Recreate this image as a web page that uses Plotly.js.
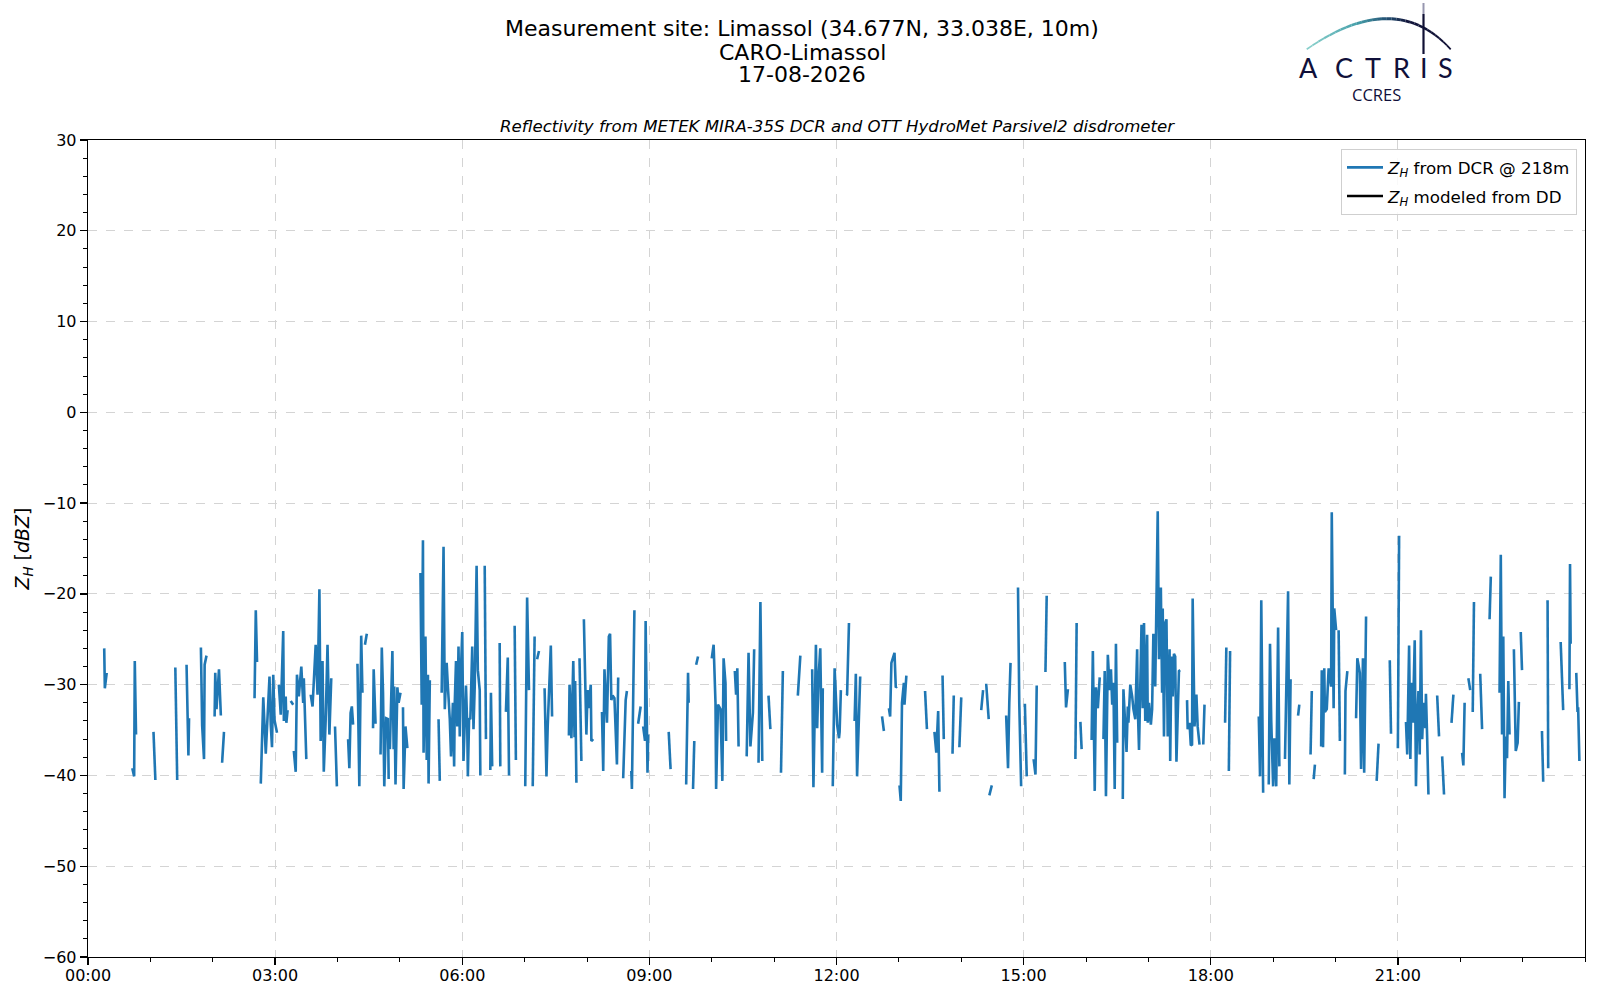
<!DOCTYPE html>
<html>
<head>
<meta charset="utf-8">
<script src="https://cdn.plot.ly/plotly-3.0.1.min.js"></script>
<style>html,body{margin:0;padding:0;background:#fff;}#chart{width:1600px;height:1000px;}</style>
</head>
<body>
<div id="chart"></div>
<script>
// ---- Data: time of day (hours) and reflectivity Z_H from DCR (dBZ); null = gap ----
const hours00to06 = [0.26,0.27,0.30,null,
 0.71,0.74,0.75,0.77,null,
 1.05,1.08,null,
 1.40,1.43,null,
 1.58,1.61,1.62,null,
 1.81,1.83,1.86,1.87,1.90,null,
 2.03,2.04,2.06,2.10,2.13,null,
 2.15,2.18,null,
 2.67,2.69,2.71,null,
 2.77,2.81,2.85,2.87,2.91,2.93,2.95,2.97,2.99,3.03,null,
 3.06,3.09,3.13,3.14,3.17,3.18,3.20,null,
 3.25,3.29,null,
 3.30,3.33,3.35,3.38,3.42,3.45,3.46,3.50,null,
 3.57,3.60,3.65,3.68,3.71,3.73,3.76,3.78,3.81,3.84,3.87,3.90,null,
 3.96,3.99,null,
 4.17,4.19,4.21,4.23,4.25,null,
 4.32,4.35,4.38,4.40,null,
 4.44,4.47,null,
 4.57,4.58,4.61,null,
 4.69,4.71,4.73,4.75,4.78,4.81,4.82,null,
 4.84,4.88,4.90,4.91,4.93,4.96,4.98,5.01,null,
 5.05,5.06,5.09,5.12,null,
 5.33,5.35,5.37,5.38,5.41,5.43,5.45,5.46,5.48,null,
 5.62,5.64,null,
 5.67,5.70,5.72,5.75,5.77,5.80,5.82,5.85,5.87,5.88,5.90,5.92,5.94,5.96,5.97];
const zh00to06 = [-26.0,-30.4,-28.7,null,
 -39.2,-40.1,-27.4,-35.5,null,
 -35.2,-40.5,null,
 -28.1,-40.5,null,
 -27.8,-37.8,-33.7,null,
 -25.9,-34.5,-38.2,-27.8,-26.8,null,
 -33.5,-28.7,-32.7,-28.3,-33.4,null,
 -38.6,-35.2,null,
 -31.5,-21.8,-27.5,null,
 -40.9,-31.4,-37.6,-35.0,-29.1,-34.4,-36.9,-28.9,-33.9,-35.3,null,
 -30.0,-33.3,-24.1,-34.0,-31.3,-34.2,-32.8,null,
 -31.8,-32.2,null,
 -37.3,-39.6,-28.9,-31.3,-28.0,-32.0,-29.3,-38.2,null,
 -31.1,-32.4,-25.6,-31.1,-19.5,-36.2,-27.4,-39.6,-34.0,-25.6,-35.5,-29.3,null,
 -34.6,-41.2,null,
 -36.0,-39.2,-33.1,-32.4,-34.4,null,
 -27.7,-41.2,-24.6,-30.9,null,
 -25.6,-24.4,null,
 -34.8,-28.3,-34.3,null,
 -37.7,-25.9,-30.9,-41.2,-33.7,-33.8,-40.4,null,
 -37.1,-26.3,-37.1,-30.2,-41.0,-30.3,-32.0,-30.9,null,
 -32.5,-41.5,-34.6,-37.0,null,
 -17.7,-32.2,-14.1,-37.5,-24.7,-38.3,-28.9,-40.9,-29.5,null,
 -33.8,-40.6,null,
 -30.9,-14.8,-32.7,-27.6,-30.2,-33.8,-37.9,-32.0,-39.0,-32.0,-27.4,-34.6,-25.8,-35.7,-30.2];

const hours06to12 = [6.00,6.02,6.04,6.06,6.08,6.09,6.11,6.13,6.16,6.18,6.20,6.23,6.25,6.28,6.29,null,
 6.36,6.38,null,
 6.45,6.46,6.48,null,
 6.60,6.61,null,
 6.70,6.73,6.75,null,
 6.84,6.86,null,
 7.01,7.04,7.07,null,
 7.13,7.16,null,
 7.20,7.23,null,
 7.32,7.35,7.37,7.40,7.42,7.44,null,
 7.71,7.72,7.75,7.78,7.80,7.81,7.83,null,
 7.88,7.91,null,
 7.95,7.99,8.01,8.03,8.06,8.07,8.10,null,
 8.24,8.26,8.28,8.32,8.35,8.37,8.39,8.41,8.44,8.48,8.50,null,
 8.58,8.60,8.62,8.64,null,
 8.71,8.72,8.76,null,
 8.82,8.86,null,
 8.90,8.93,8.94,8.97,8.98,null,
 9.31,9.34,null,
 9.59,9.62,9.63,null,
 9.70,9.72,null,
 9.75,9.78,null,
 10.00,10.03,10.06,10.07,10.10,10.14,10.17,10.19,10.22,10.23,null,
 10.37,10.39,10.41,10.43,null,
 10.56,10.59,10.62,10.66,10.68,null,
 10.75,10.78,10.81,null,
 10.91,10.94,null,
 11.11,11.14,null,
 11.38,11.42,null,
 11.61,11.63,11.67,11.69,11.71,11.74,11.77,11.78,null,
 11.94,11.97];
const zh06to12 = [-24.2,-38.4,-33.5,-30.1,-34.6,-40.1,-33.7,-33.8,-25.8,-34.9,-30.2,-16.9,-28.4,-30.6,-40.0,null,
 -16.9,-36.0,null,
 -39.4,-30.9,-39.0,null,
 -25.4,-39.0,null,
 -33.0,-27.0,-40.0,null,
 -23.5,-38.3,null,
 -41.2,-20.4,-30.6,null,
 -41.2,-24.7,null,
 -27.2,-26.3,null,
 -30.4,-40.1,-34.6,-29.6,-25.7,-33.5,null,
 -35.6,-30.0,-35.9,-27.4,-35.8,-29.6,-40.8,null,
 -27.1,-38.4,null,
 -22.8,-35.5,-30.6,-32.6,-30.0,-36.2,-36.0,null,
 -33.0,-39.5,-28.3,-34.2,-24.7,-24.4,-31.7,-31.2,-31.5,-38.8,-29.2,null,
 -40.3,-35.5,-31.7,-30.7,null,
 -39.5,-41.5,-21.8,null,
 -34.3,-32.4,null,
 -34.6,-36.2,-23.0,-39.7,-35.5,null,
 -35.2,-39.3,null,
 -41.0,-28.7,-32.0,null,
 -41.5,-36.2,null,
 -27.8,-26.9,null,
 -27.1,-25.6,-32.0,-41.5,-32.2,-32.7,-40.6,-27.1,-29.8,-36.2,null,
 -28.5,-31.1,-28.2,-36.8,null,
 -37.9,-26.5,-36.8,-33.1,-26.1,null,
 -38.6,-20.9,-38.4,null,
 -31.2,-34.9,null,
 -39.7,-28.5,null,
 -31.2,-26.8,null,
 -28.3,-41.3,-25.6,-34.8,-29.5,-26.0,-39.7,-30.4,null,
 -41.2,-28.2];

const hours12to18 = [12.01,12.04,12.05,12.07,null,
 12.16,12.17,12.20,null,
 12.29,12.31,12.33,12.36,12.38,null,
 12.73,12.76,null,
 12.84,12.86,12.88,12.93,12.95,12.97,null,
 13.01,13.03,13.05,13.08,13.09,13.12,null,
 13.42,13.45,null,
 13.57,13.60,13.63,13.65,null,
 13.70,13.72,null,
 13.86,13.88,null,
 13.97,14.00,null,
 14.32,14.35,null,
 14.40,14.44,null,
 14.45,14.49,null,
 14.72,14.75,14.77,14.79,null,
 14.91,14.93,14.96,null,
 15.02,15.05,null,
 15.16,15.19,15.21,null,
 15.35,15.37,null,
 15.66,15.68,15.71,null,
 15.83,15.85,null,
 15.91,15.93,null,
 16.09,16.11,16.14,16.16,16.19,16.22,null,
 16.28,16.30,16.32,16.35,16.38,16.40,16.42,16.44,16.46,16.48,16.50,null,
 16.59,16.60,16.65,16.67,16.68,16.71,16.74,16.76,16.79,16.82,
 16.83,16.85,16.89,16.91,16.93,16.95,16.98,16.99,17.01,17.04,
 17.06,17.08,17.11,17.13,17.15,17.17,17.20,17.22,17.23,17.25,
 17.27,17.29,17.31,17.34,17.35,17.37,17.39,17.41,17.43,17.45,
 17.47,17.49,17.51,null,
 17.62,17.63,17.66,17.68,17.70,17.71,17.74,17.77,17.79,17.82,null,
 17.88,17.90,null];
const zh12to18 = [-34.4,-35.9,-35.2,-30.6,null,
 -31.2,-31.1,-23.2,null,
 -34.0,-28.8,-40.1,-33.3,-29.1,null,
 -33.5,-35.1,null,
 -32.6,-33.5,-27.6,-26.5,-30.3,-30.2,null,
 -41.1,-42.8,-32.0,-29.8,-32.2,-29.0,null,
 -30.7,-34.9,null,
 -35.2,-37.5,-32.9,-41.8,null,
 -29.0,-36.0,null,
 -37.6,-31.2,null,
 -36.9,-31.4,null,
 -32.8,-30.6,null,
 -29.9,-33.8,null,
 -42.2,-41.1,null,
 -33.4,-39.2,-32.0,-27.6,null,
 -19.3,-32.0,-41.2,null,
 -32.1,-40.1,null,
 -38.2,-39.9,-30.1,null,
 -28.6,-20.2,null,
 -27.5,-32.5,-30.5,null,
 -38.2,-23.2,null,
 -34.1,-37.1,null,
 -36.1,-26.3,-41.7,-30.3,-32.6,-29.2,null,
 -36.0,-28.5,-42.3,-26.7,-30.6,-28.3,-32.2,-29.8,-41.5,-25.5,-36.4,null,
 -42.6,-30.5,-37.4,-32.4,-34.2,-30.0,-31.3,-32.7,-33.8,-26.1,
 -32.4,-37.2,-23.4,-32.6,-23.2,-34.0,-24.5,-34.2,-32.0,-34.4,
 -32.7,-24.4,-30.2,-19.6,-10.9,-27.2,-19.3,-30.9,-21.6,-35.7,
 -23.2,-22.8,-35.7,-26.1,-38.4,-26.9,-31.3,-26.6,-26.9,-38.5,
 -31.7,-28.5,-28.4,null,
 -31.7,-34.9,-34.2,-36.7,-36.6,-20.5,-34.6,-31.1,-34.6,-36.6,null,
 -36.6,-32.2,null];

const hours18to24 = [18.23,18.25,null,
 18.29,18.31,null,
 18.77,18.79,18.81,18.84,null,
 18.93,18.95,18.97,19.00,19.02,19.05,19.08,19.10,null,
 19.19,19.24,19.26,19.28,null,
 19.40,19.42,null,
 19.60,19.62,null,
 19.65,19.67,null,
 19.77,19.78,19.80,19.82,19.83,19.86,19.89,19.93,19.94,19.97,19.98,20.01,null,
 20.05,20.07,null,
 20.15,20.16,20.19,null,
 20.33,20.35,20.39,20.41,20.44,20.46,20.49,null,
 20.66,20.69,null,
 20.87,20.89,null,
 21.00,21.02,null,
 21.13,21.15,21.18,21.20,21.22,21.24,21.27,21.29,21.31,21.33,21.35,21.37,21.39,21.41,21.44,21.45,21.47,21.49,null,
 21.63,21.66,null,
 21.71,21.74,null,
 21.86,21.89,null,
 22.03,22.05,22.07,null,
 22.13,22.16,null,
 22.20,22.22,null,
 22.32,22.35,null,
 22.47,22.49,null,
 22.63,22.65,22.67,22.69,22.71,22.73,22.75,22.77,22.79,null,
 22.86,22.89,22.92,22.94,null,
 22.97,22.99,null,
 23.31,23.33,null,
 23.40,23.41,null,
 23.61,23.64,23.65,null,
 23.75,23.76,23.77,null,
 23.86,23.88,23.89,23.91];
const zh18to24 = [-34.2,-25.9,null,
 -39.5,-26.3,null,
 -33.5,-40.1,-20.7,-41.9,null,
 -41.0,-25.5,-34.0,-41.2,-35.9,-41.2,-23.7,-39.0,null,
 -38.2,-19.7,-41.0,-29.4,null,
 -33.4,-32.2,null,
 -37.7,-30.7,null,
 -40.4,-38.8,null,
 -36.8,-28.4,-36.9,-28.2,-33.0,-32.7,-28.2,-30.2,-11.0,-32.6,-21.6,-24.0,null,
 -24.0,-36.2,null,
 -39.9,-30.7,-28.5,null,
 -33.7,-27.1,-28.7,-39.3,-27.1,-39.7,-22.5,null,
 -40.6,-36.5,null,
 -27.3,-35.4,null,
 -37.0,-13.6,null,
 -34.1,-37.7,-25.7,-38.2,-29.8,-34.2,-25.1,-41.2,-33.9,-30.7,-37.7,-24.0,-36.0,-32.0,-34.8,-31.0,-36.0,-42.1,null,
 -31.2,-35.7,null,
 -37.9,-42.1,null,
 -34.2,-31.1,null,
 -37.5,-38.9,-32.0,null,
 -29.3,-30.6,null,
 -33.0,-20.9,null,
 -28.8,-34.9,null,
 -22.8,-18.1,null,
 -30.9,-15.7,-35.5,-24.7,-42.5,-35.7,-38.1,-29.6,-35.5,null,
 -26.1,-37.3,-36.4,-31.9,null,
 -24.2,-28.4,null,
 -35.1,-40.7,null,
 -20.7,-39.2,null,
 -25.3,-32.6,-32.8,null,
 -30.5,-16.7,-25.5,null,
 -28.7,-33.0,-32.5,-38.4];

// Tick labels
const xTickHours = [0,3,6,9,12,15,18,21];
const xTickLabels = ["00:00","03:00","06:00","09:00","12:00","15:00","18:00","21:00"];

// Texts
const titleLines = ["Measurement site: Limassol (34.677N, 33.038E, 10m)","CARO-Limassol","17-08-2026"];
const subTitle = "Reflectivity from METEK MIRA-35S DCR and OTT HydroMet Parsivel2 disdrometer";
const seriesNames = ["<i>Z</i><sub><i>H</i></sub> from DCR @ 218m","<i>Z</i><sub><i>H</i></sub> modeled from DD"];
const logoLetters = ["A","C","T","R","I","S"];

// ---- Layout geometry (pixels) ----
const W = 1600, H = 1000;
const M = {l: 88, r: 15, t: 140, b: 43};
const PW = W - M.l - M.r, PH = H - M.t - M.b;
const px = x => (x - M.l) / PW;          // pixel -> paper x
const py = y => (H - M.b - y) / PH;      // pixel -> paper y

const xAll = hours00to06.concat(hours06to12, hours12to18, hours18to24);
const yAll = zh00to06.concat(zh06to12, zh12to18, zh18to24);

const traces = [
  {x: xAll, y: yAll, type: 'scatter', mode: 'lines', connectgaps: false, legendgroup: 'dcr',
   name: seriesNames[0], line: {color: '#1f77b4', width: 2.6}},
  {x: [null], y: [null], type: 'scatter', mode: 'lines', legendgroup: 'dd',
   name: seriesNames[1], line: {color: '#000000', width: 2.6}}
];

const FONT = 'DejaVu Sans, Liberation Sans, sans-serif';

// Logo arc (quadratic bezier sampled), gradient teal -> navy
const shapes = [];
const P0 = [1306.7, 49.3], P1 = [1395, -12], P2 = [1450.7, 49.3];
const stops = [[0, [140, 210, 205]], [0.3, [70, 160, 170]], [0.5, [35, 80, 115]], [0.65, [18, 22, 60]], [1, [16, 16, 52]]];
function colAt(t) {
  for (let i = 0; i < stops.length - 1; i++) {
    const a = stops[i], b = stops[i + 1];
    if (t >= a[0] && t <= b[0]) {
      const f = (t - a[0]) / (b[0] - a[0]);
      const c = a[1].map((v, k) => Math.round(v + (b[1][k] - v) * f));
      return 'rgb(' + c.join(',') + ')';
    }
  }
  return 'rgb(16,16,52)';
}
function bez(t) {
  const u = 1 - t;
  return [u*u*P0[0] + 2*u*t*P1[0] + t*t*P2[0], u*u*P0[1] + 2*u*t*P1[1] + t*t*P2[1]];
}
const NSEG = 30;
for (let i = 0; i < NSEG; i++) {
  const t0 = i / NSEG, t1 = (i + 1) / NSEG;
  const a = bez(t0), b = bez(t1);
  const w = 1.6 + 1.4 * Math.sin(Math.PI * (t0 + t1) / 2);
  shapes.push({type: 'line', xref: 'paper', yref: 'paper', x0: px(a[0]), y0: py(a[1]), x1: px(b[0]), y1: py(b[1]),
               line: {color: colAt((t0 + t1) / 2), width: w}, layer: 'above'});
}
// vertical stroke of logo
shapes.push({type: 'line', xref: 'paper', yref: 'paper', x0: px(1423.5), y0: py(3), x1: px(1423.5), y1: py(14),
             line: {color: 'rgb(150,150,175)', width: 2}});
shapes.push({type: 'line', xref: 'paper', yref: 'paper', x0: px(1423.5), y0: py(14), x1: px(1423.5), y1: py(54),
             line: {color: 'rgb(16,16,52)', width: 2.2}});

const annotations = [];
annotations.push({xref: 'paper', yref: 'paper', x: px(838), y: py(126), xanchor: 'center', yanchor: 'middle',
  text: '<i>' + subTitle + '</i>', showarrow: false, font: {family: FONT, size: 16.6, color: '#000'}});
const titleY = [28.5, 52, 74.5];
titleLines.forEach((t, i) => {
  annotations.push({xref: 'paper', yref: 'paper', x: px(802), y: py(titleY[i]), xanchor: 'center', yanchor: 'middle',
    text: t, showarrow: false, font: {family: FONT, size: 22, color: '#000'}});
});
const letterX = [1308, 1344.3, 1373.3, 1401.7, 1424, 1445.7];
logoLetters.forEach((ch, i) => {
  annotations.push({xref: 'paper', yref: 'paper', x: px(letterX[i]), y: py(67.5), xanchor: 'center', yanchor: 'middle',
    text: ch, showarrow: false, font: {family: 'Lato, Open Sans, sans-serif', size: 27, color: '#10103a'}});
});
annotations.push({xref: 'paper', yref: 'paper', x: px(1376.5), y: py(94), xanchor: 'center', yanchor: 'middle',
  text: 'CCRES', showarrow: false, font: {family: 'Open Sans, sans-serif', size: 16.5, color: '#10103a'}});

const axisCommon = {
  showline: true, linecolor: '#000', linewidth: 1.3, mirror: true,
  ticks: 'outside', ticklen: 7, tickwidth: 1.3, tickcolor: '#000',
  showgrid: true, gridcolor: '#d4d4d4', griddash: 'dash', gridwidth: 1,
  zeroline: false, tickfont: {family: FONT, size: 16, color: '#000'}
};

const layout = {
  width: W, height: H,
  margin: M,
  paper_bgcolor: '#fff', plot_bgcolor: '#fff',
  showlegend: true,
  legend: {x: px(1577), xanchor: 'right', y: py(149), yanchor: 'top',
           bgcolor: 'rgba(255,255,255,0.85)', bordercolor: '#cfcfcf', borderwidth: 1,
           font: {family: FONT, size: 16.7, color: '#000'}, itemwidth: 36, tracegroupgap: 4,
           traceorder: 'grouped'},
  xaxis: Object.assign({}, axisCommon, {
    range: [0, 24], tickmode: 'array', tickvals: xTickHours, ticktext: xTickLabels,
    ticklabelstandoff: -4,
    minor: {tickmode: 'linear', tick0: 0, dtick: 1, ticks: 'outside', ticklen: 4, tickcolor: '#000', tickwidth: 1, showgrid: false}
  }),
  yaxis: Object.assign({}, axisCommon, {
    range: [-60, 30], tickmode: 'linear', tick0: 0, dtick: 10,
    minor: {tickmode: 'linear', tick0: 0, dtick: 2, ticks: 'outside', ticklen: 4, tickcolor: '#000', tickwidth: 1, showgrid: false},
    title: {text: '<i>Z</i><sub><i>H</i></sub> [<i>dBZ</i>]', font: {family: FONT, size: 19, color: '#000'}, standoff: 8}
  }),
  shapes: shapes,
  annotations: annotations
};

Plotly.newPlot('chart', traces, layout, {staticPlot: true, displayModeBar: false});
</script>
</body>
</html>
